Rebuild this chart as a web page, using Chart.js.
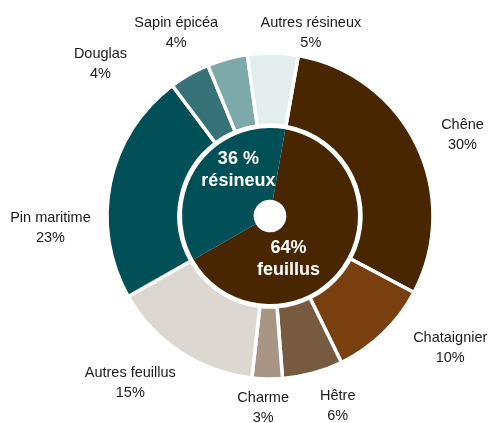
<!DOCTYPE html>
<html>
<head>
<meta charset="utf-8">
<script src="https://cdn.jsdelivr.net/npm/chart.js@4/dist/chart.umd.min.js"></script>
<style>
  html, body { margin: 0; padding: 0; background: #ffffff; }
  #wrap { width: 491px; height: 423px; position: relative; }
</style>
</head>
<body>
<div id="wrap"><canvas id="c" width="491" height="423"></canvas></div>
<script>
// ---- Data ----
const speciesLabels = ["Chêne", "Chataignier", "Hêtre", "Charme", "Autres feuillus", "Pin maritime", "Douglas", "Sapin épicéa", "Autres résineux"];
const speciesValues = [30, 10, 6, 3, 15, 23, 4, 4, 5];
const groupLabels = ["feuillus", "résineux"];
const groupValues = [64, 36];
const groupValueTexts = ["64%", "36 %"];

// ---- Styles / layout ----
const speciesColors = ["#472600", "#7a3f0e", "#775a3f", "#a99584", "#ddd7d2", "#014f57", "#367277", "#7ea9ab", "#e3edee"];
const groupColors = ["#472600", "#014f57"];
// label nudges relative to the outer mid-point of each arc (px)
const speciesLabelOffsets = [[46, -10], [67, 15], [25, 33], [-4, 29], [-50, 31], [-60, 45], [-89, -10], [-51, -26], [38, -20]];
const groupLabelOffsets = [[-24, 13], [11, -16]];

const labelPlugin = {
  id: 'labels',
  afterDatasetsDraw(chart) {
    const ctx = chart.ctx;
    ctx.save();
    ctx.textAlign = 'center';
    ctx.textBaseline = 'middle';
    // outer labels
    const outer = chart.getDatasetMeta(0).data;
    ctx.fillStyle = '#1a1a1a';
    ctx.font = '14.5px "Liberation Sans", Arial, sans-serif';
    outer.forEach((arc, i) => {
      const p = arc.getProps(['x', 'y', 'startAngle', 'endAngle', 'outerRadius'], true);
      const a = (p.startAngle + p.endAngle) / 2;
      const x = p.x + Math.cos(a) * p.outerRadius + speciesLabelOffsets[i][0];
      const y = p.y + Math.sin(a) * p.outerRadius + speciesLabelOffsets[i][1];
      ctx.fillText(speciesLabels[i], x, y - 10);
      ctx.fillText(speciesValues[i] + '%', x, y + 10);
    });
    // inner labels
    const inner = chart.getDatasetMeta(2).data;
    ctx.fillStyle = '#ffffff';
    ctx.font = 'bold 18px "Liberation Sans", Arial, sans-serif';
    inner.forEach((arc, i) => {
      const p = arc.getProps(['x', 'y', 'startAngle', 'endAngle', 'innerRadius', 'outerRadius'], true);
      const a = (p.startAngle + p.endAngle) / 2;
      const r = (p.innerRadius + p.outerRadius) / 2;
      const x = p.x + Math.cos(a) * r + groupLabelOffsets[i][0];
      const y = p.y + Math.sin(a) * r + groupLabelOffsets[i][1];
      ctx.fillText(groupValueTexts[i], x, y - 11);
      ctx.fillText(groupLabels[i], x, y + 11);
    });
    ctx.restore();
  }
};

new Chart(document.getElementById('c'), {
  type: 'doughnut',
  data: {
    labels: speciesLabels,
    datasets: [
      {
        data: speciesValues,
        backgroundColor: speciesColors,
        borderColor: '#ffffff',
        borderWidth: 3.5,
        weight: 72
      },
      {
        data: [1],
        backgroundColor: 'rgba(0,0,0,0)',
        borderWidth: 0,
        weight: 3
      },
      {
        data: groupValues,
        backgroundColor: groupColors,
        borderColor: groupColors,
        borderWidth: 0,
        weight: 71.7
      }
    ]
  },
  options: {
    responsive: false,
    animation: false,
    rotation: 10,
    radius: 163,
    cutout: '10%',
    layout: { padding: { left: 49, right: 0, top: 9, bottom: 0 } },
    plugins: {
      legend: { display: false },
      tooltip: { enabled: false }
    }
  },
  plugins: [labelPlugin]
});
</script>
</body>
</html>
